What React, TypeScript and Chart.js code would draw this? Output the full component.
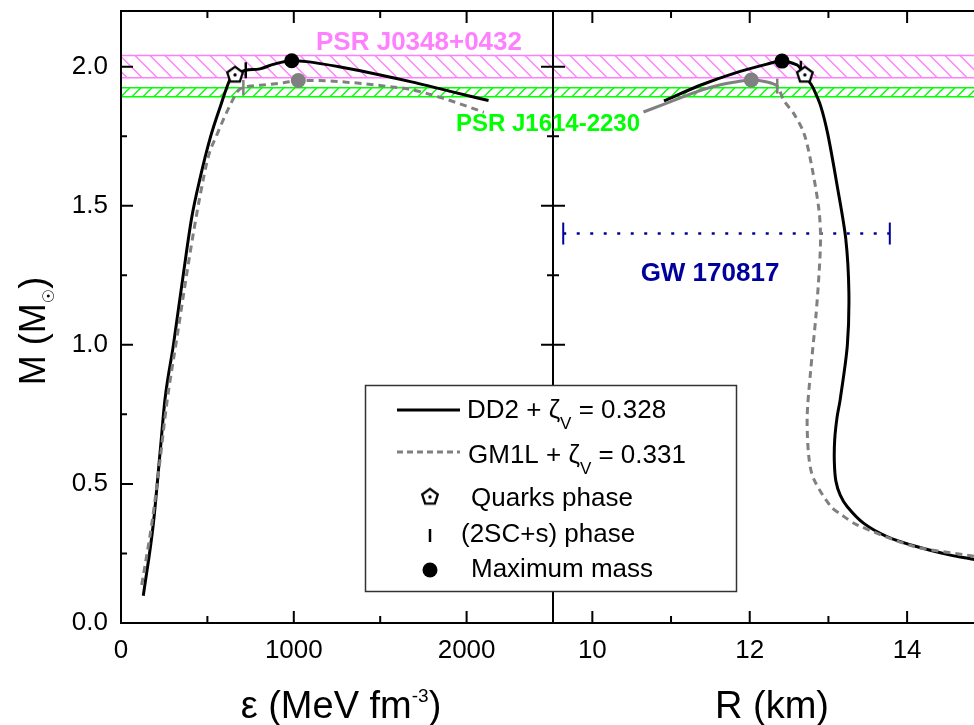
import React, { useEffect, useRef } from "react";
import { Chart, registerables } from "chart.js";

Chart.register(...registerables);

const FONT = '"Liberation Sans", Arial, Helvetica, sans-serif';
const GRAY = "#808080";
const PINK = "#ff80ff";
const GREEN = "#00ff00";
const NAVY = "#00009c";

// ---------- axes ----------
const epsRange = [0, 2500];
const radiusRange = [9.5, 14.85];
const massRange = [0, 2.2];
const epsMajorTicks = [0, 1000, 2000];
const epsMinorTicks = [500, 1500];
const radiusMajorTicks = [10, 12, 14];
const radiusMinorTicks = [11, 13];
const massMajorTicks = [0, 0.5, 1.0, 1.5, 2.0];
const massMinorTicks = [0.25, 0.75, 1.25, 1.75];

// ---------- DD2 + zeta_V = 0.328 ----------
const dd2Eps = [129, 187, 226, 255, 303, 361, 410, 458, 516, 574, 632, 660, 700, 722, 804, 881, 988, 1075, 1300, 1500, 1675, 1900, 2127];
const dd2EpsMass = [0.098, 0.356, 0.612, 0.806, 0.998, 1.255, 1.46, 1.6, 1.743, 1.855, 1.955, 1.973, 1.983, 1.987, 1.992, 2.008, 2.021, 2.018, 1.995, 1.97, 1.946, 1.912, 1.878];
const dd2Radius = [15.0, 14.84, 14.55, 14.13, 13.75, 13.45, 13.24, 13.15, 13.095, 13.075, 13.08, 13.11, 13.15, 13.24, 13.26, 13.22, 13.11, 12.99, 12.9, 12.81, 12.76, 12.7, 12.65, 12.6, 12.41, 12.22, 11.8, 11.38, 10.91];
const dd2RadiusMass = [0.218, 0.229, 0.244, 0.274, 0.31, 0.358, 0.418, 0.46, 0.51, 0.58, 0.66, 0.74, 0.804, 0.997, 1.19, 1.382, 1.574, 1.76, 1.86, 1.921, 1.945, 1.973, 1.992, 2.006, 2.02, 2.009, 1.976, 1.934, 1.877];

// ---------- GM1L + zeta_V = 0.331 ----------
const gm1lEps = [120, 178, 226, 265, 323, 400, 458, 506, 554, 600, 642, 680, 708, 748, 845, 941, 1026, 1134, 1328, 1500, 1675, 1865, 2100];
const gm1lEpsMass = [0.137, 0.356, 0.586, 0.79, 1.023, 1.331, 1.537, 1.678, 1.754, 1.82, 1.875, 1.915, 1.925, 1.93, 1.935, 1.942, 1.95, 1.95, 1.943, 1.932, 1.918, 1.886, 1.836];
const gm1lRadius = [15.0, 14.76, 14.08, 13.37, 13.17, 13.03, 12.81, 12.75, 12.73, 12.77, 12.84, 12.88, 12.9, 12.88, 12.79, 12.69, 12.56, 12.43, 12.35, 12.22, 12.02, 11.84, 11.63, 11.38, 11.16, 10.65];
const gm1lRadiusMass = [0.232, 0.244, 0.276, 0.352, 0.388, 0.419, 0.52, 0.6, 0.74, 0.894, 1.1, 1.253, 1.382, 1.484, 1.639, 1.76, 1.831, 1.88, 1.93, 1.945, 1.952, 1.946, 1.935, 1.915, 1.892, 1.837];

// ---------- markers ----------
const quarkEps = [660];
const quarkEpsMass = [1.973];
const quarkRadius = [12.7];
const quarkRadiusMass = [1.973];
const dd2TwoScEps = [722];
const dd2TwoScEpsMass = [1.987];
const gm1lTwoScEps = [708];
const gm1lTwoScEpsMass = [1.925];
const dd2TwoScRadius = [12.65];
const dd2TwoScRadiusMass = [1.992];
const gm1lTwoScRadius = [12.35];
const gm1lTwoScRadiusMass = [1.93];
const dd2MaxEps = [988];
const dd2MaxEpsMass = [2.021];
const gm1lMaxEps = [1026];
const gm1lMaxEpsMass = [1.95];
const dd2MaxRadius = [12.41];
const dd2MaxRadiusMass = [2.02];
const gm1lMaxRadius = [12.02];
const gm1lMaxRadiusMass = [1.952];

// ---------- observational constraints ----------
const psrJ0348Band = [1.96, 2.04];
const psrJ1614Band = [1.892, 1.924];
const gw170817Radius = [9.63, 13.78];
const gw170817Mass = [1.4, 1.4];

// ---------- legend ----------
const seriesNames = ["DD2", "GM1L"];
const zetaValues = ["0.328", "0.331"];
const markerNames = ["Quarks phase", "(2SC+s) phase", "Maximum mass"];

const pts = (xs: number[], ys: number[]) => xs.map((x, i) => ({ x, y: ys[i] }));
const gm1lSolidFrom = gm1lRadius.indexOf(gm1lTwoScRadius[0]);

function makePentagon(): HTMLCanvasElement {
  const c = document.createElement("canvas");
  c.width = 24;
  c.height = 24;
  const g = c.getContext("2d") as CanvasRenderingContext2D;
  g.beginPath();
  for (let i = 0; i < 5; i++) {
    const a = -Math.PI / 2 + (i * 2 * Math.PI) / 5;
    const px = 12 + 8.2 * Math.cos(a);
    const py = 12.8 + 8.2 * Math.sin(a);
    if (i === 0) g.moveTo(px, py);
    else g.lineTo(px, py);
  }
  g.closePath();
  g.fillStyle = "#fff";
  g.fill();
  g.lineWidth = 2.3;
  g.lineJoin = "miter";
  g.strokeStyle = "#000";
  g.stroke();
  g.beginPath();
  g.arc(12, 12.8, 1.7, 0, Math.PI * 2);
  g.fillStyle = "#000";
  g.fill();
  return c;
}

type Part = { t: string; font: string; dy?: number };
function richWidth(ctx: CanvasRenderingContext2D, parts: Part[]) {
  let w = 0;
  for (const p of parts) {
    ctx.font = p.font;
    w += ctx.measureText(p.t).width;
  }
  return w;
}
function drawRich(ctx: CanvasRenderingContext2D, parts: Part[], x: number, y: number, align = "left") {
  let cx = align === "center" ? x - richWidth(ctx, parts) / 2 : x;
  ctx.textAlign = "left";
  ctx.textBaseline = "alphabetic";
  for (const p of parts) {
    ctx.font = p.font;
    ctx.fillText(p.t, cx, y + (p.dy || 0));
    cx += ctx.measureText(p.t).width;
  }
}

function hatchBand(ctx: CanvasRenderingContext2D, area: any, yScale: any, band: number[], color: string, spacing: number, rising: boolean) {
  const yTop = yScale.getPixelForValue(band[1]);
  const yBot = yScale.getPixelForValue(band[0]);
  const h = yBot - yTop;
  ctx.save();
  ctx.beginPath();
  ctx.rect(area.left, yTop, area.right - area.left, h);
  ctx.clip();
  ctx.strokeStyle = color;
  ctx.lineWidth = 1.4;
  ctx.beginPath();
  const start = Math.floor((area.left - h - spacing) / spacing) * spacing;
  for (let x0 = start; x0 <= area.right + h; x0 += spacing) {
    if (rising) {
      ctx.moveTo(x0, yBot);
      ctx.lineTo(x0 + h, yTop);
    } else {
      ctx.moveTo(x0, yTop);
      ctx.lineTo(x0 + h, yBot);
    }
  }
  ctx.stroke();
  ctx.restore();
  ctx.save();
  ctx.strokeStyle = color;
  ctx.lineWidth = 1.6;
  ctx.beginPath();
  ctx.moveTo(area.left, yTop);
  ctx.lineTo(area.right, yTop);
  ctx.moveTo(area.left, yBot);
  ctx.lineTo(area.right, yBot);
  ctx.stroke();
  ctx.restore();
}

function drawBands(chart: any) {
  const ctx = chart.ctx;
  const area = chart.chartArea;
  const y = chart.scales.y;
  hatchBand(ctx, area, y, psrJ0348Band, PINK, 15, false);
  hatchBand(ctx, area, y, psrJ1614Band, GREEN, 11, true);
}

function drawFrame(chart: any, xMajor: number[], xMinor: number[], sides: { left: boolean; right: boolean; leftInward: boolean }) {
  const ctx = chart.ctx;
  const { left, right, top, bottom } = chart.chartArea;
  const xs = chart.scales.x;
  const ys = chart.scales.y;
  ctx.save();
  ctx.strokeStyle = "#000";
  ctx.lineWidth = 2;
  ctx.lineCap = "square";
  ctx.beginPath();
  ctx.moveTo(left, top);
  ctx.lineTo(right, top);
  ctx.moveTo(left, bottom);
  ctx.lineTo(right, bottom);
  if (sides.left) {
    ctx.moveTo(left, top);
    ctx.lineTo(left, bottom);
  }
  if (sides.right) {
    ctx.moveTo(right, top);
    ctx.lineTo(right, bottom);
  }
  ctx.stroke();
  ctx.lineCap = "butt";
  ctx.beginPath();
  const xt = (vals: number[], len: number) => {
    for (const v of vals) {
      const px = xs.getPixelForValue(v);
      if (px <= left + 1 || px >= right - 1) continue;
      ctx.moveTo(px, bottom);
      ctx.lineTo(px, bottom - len);
      ctx.moveTo(px, top);
      ctx.lineTo(px, top + len);
    }
  };
  xt(xMajor, 12);
  xt(xMinor, 7);
  const yt = (vals: number[], len: number) => {
    for (const v of vals) {
      const py = ys.getPixelForValue(v);
      if (py >= bottom - 1) continue;
      if (sides.leftInward) {
        ctx.moveTo(left, py);
        ctx.lineTo(left + len, py);
      }
      if (sides.right) {
        ctx.moveTo(right, py);
        ctx.lineTo(right - len, py);
      }
    }
  };
  yt(massMajorTicks, 12);
  yt(massMinorTicks, 6);
  ctx.stroke();
  ctx.restore();
}

function drawLegend(ctx: CanvasRenderingContext2D, pentagon: HTMLCanvasElement) {
  ctx.save();
  ctx.fillStyle = "#fff";
  ctx.fillRect(365, 385, 372, 207);
  ctx.strokeStyle = "#333";
  ctx.lineWidth = 1.5;
  ctx.strokeRect(365.5, 385.5, 371, 206);

  ctx.strokeStyle = "#000";
  ctx.lineWidth = 3;
  ctx.beginPath();
  ctx.moveTo(397, 410);
  ctx.lineTo(460, 410);
  ctx.stroke();
  ctx.strokeStyle = GRAY;
  ctx.setLineDash([6, 4]);
  ctx.beginPath();
  ctx.moveTo(397, 452);
  ctx.lineTo(460, 452);
  ctx.stroke();
  ctx.setLineDash([]);

  ctx.drawImage(pentagon, 430 - 12, 497 - 12.8);
  ctx.strokeStyle = "#000";
  ctx.lineWidth = 2.5;
  ctx.beginPath();
  ctx.moveTo(430, 529);
  ctx.lineTo(430, 542);
  ctx.stroke();
  ctx.fillStyle = "#000";
  ctx.beginPath();
  ctx.arc(430, 570, 7.5, 0, Math.PI * 2);
  ctx.fill();

  const big = `26px ${FONT}`;
  const sub = `17px ${FONT}`;
  ctx.fillStyle = "#000";
  drawRich(ctx, [
    { t: `${seriesNames[0]} + ζ`, font: big },
    { t: "V", font: sub, dy: 11 },
    { t: ` = ${zetaValues[0]}`, font: big },
  ], 467, 418);
  drawRich(ctx, [
    { t: `${seriesNames[1]} + ζ`, font: big },
    { t: "V", font: sub, dy: 11 },
    { t: ` = ${zetaValues[1]}`, font: big },
  ], 468, 463);
  drawRich(ctx, [{ t: markerNames[0], font: big }], 471, 506);
  drawRich(ctx, [{ t: markerNames[1], font: big }], 461, 542);
  drawRich(ctx, [{ t: markerNames[2], font: big }], 471, 577);
  ctx.restore();
}

function xScaleOpts(range: number[], major: number[], fmt: (v: number) => string) {
  return {
    type: "linear",
    position: "bottom",
    min: range[0],
    max: range[1],
    grid: { display: false, drawTicks: false },
    border: { display: false },
    ticks: {
      font: { family: FONT, size: 26 },
      color: "#000",
      padding: 12,
      autoSkip: false,
      maxRotation: 0,
      callback: (v: any) => fmt(Number(v)),
    },
    afterBuildTicks: (s: any) => {
      s.ticks = major.map((v) => ({ value: v }));
    },
    afterFit: (s: any) => {
      s.height = 102;
      s.paddingLeft = 0;
      s.paddingRight = 0;
      s.paddingTop = 0;
      s.paddingBottom = 0;
    },
  };
}

function yScaleOpts(display: boolean) {
  return {
    type: "linear",
    position: "left",
    display,
    min: massRange[0],
    max: massRange[1],
    grid: { display: false, drawTicks: false },
    border: { display: false },
    ticks: {
      font: { family: FONT, size: 26 },
      color: "#000",
      padding: 13,
      autoSkip: false,
      callback: (v: any) => Number(v).toFixed(1),
    },
    afterBuildTicks: (s: any) => {
      s.ticks = massMajorTicks.map((v) => ({ value: v }));
    },
    afterFit: (s: any) => {
      if (display) s.width = 121;
      s.paddingTop = 0;
      s.paddingBottom = 0;
      s.paddingLeft = 0;
      s.paddingRight = 0;
    },
  };
}

function markerSets(pentagon: HTMLCanvasElement, m: any) {
  return [
    { data: pts(m.dd2MaxX, m.dd2MaxY), showLine: false, pointRadius: 7.5, pointBackgroundColor: "#000", pointBorderColor: "#000", pointBorderWidth: 0 },
    { data: pts(m.gmMaxX, m.gmMaxY), showLine: false, pointRadius: 7.5, pointBackgroundColor: GRAY, pointBorderColor: GRAY, pointBorderWidth: 0 },
    { data: pts(m.qX, m.qY), showLine: false, pointStyle: pentagon, pointRadius: 8 },
    { data: pts(m.dd2TwoX, m.dd2TwoY), showLine: false, pointStyle: "line", pointRotation: 90, pointRadius: 8, pointBorderWidth: 2.5, pointBorderColor: "#000", pointBackgroundColor: "#000" },
    { data: pts(m.gmTwoX, m.gmTwoY), showLine: false, pointStyle: "line", pointRotation: 90, pointRadius: 7.5, pointBorderWidth: 2.5, pointBorderColor: GRAY, pointBackgroundColor: GRAY },
  ];
}

export default function App() {
  const leftRef = useRef<HTMLCanvasElement | null>(null);
  const rightRef = useRef<HTMLCanvasElement | null>(null);

  useEffect(() => {
    const pentagon = makePentagon();
    const common = {
      responsive: false,
      animation: false,
      devicePixelRatio: 1,
      events: [],
      plugins: { legend: { display: false }, tooltip: { enabled: false } },
    };

    const leftPlugin = {
      id: "leftDecor",
      beforeDatasetsDraw: (chart: any) => drawBands(chart),
      afterDatasetsDraw: (chart: any) => {
        drawFrame(chart, epsMajorTicks, epsMinorTicks, { left: true, right: true, leftInward: true });
        const ctx = chart.ctx;
        ctx.save();
        ctx.fillStyle = PINK;
        ctx.font = `bold 26px ${FONT}`;
        ctx.textAlign = "center";
        ctx.textBaseline = "alphabetic";
        ctx.fillText("PSR J0348+0432", 419, 50);
        ctx.restore();
      },
      afterDraw: (chart: any) => {
        const ctx = chart.ctx;
        ctx.save();
        ctx.fillStyle = "#000";
        drawRich(ctx, [
          { t: "ε (MeV fm", font: `38px ${FONT}` },
          { t: "-3", font: `19px ${FONT}`, dy: -16 },
          { t: ")", font: `38px ${FONT}` },
        ], 341, 718, "center");
        ctx.translate(45, 331);
        ctx.rotate(-Math.PI / 2);
        drawRich(ctx, [
          { t: "M (M", font: `36px ${FONT}` },
          { t: "☉", font: `16px "DejaVu Sans", ${FONT}`, dy: 9 },
          { t: ")", font: `36px ${FONT}` },
        ], 0, 0, "center");
        ctx.restore();
      },
    };

    const rightPlugin = {
      id: "rightDecor",
      beforeDatasetsDraw: (chart: any) => drawBands(chart),
      afterDatasetsDraw: (chart: any) => {
        drawFrame(chart, radiusMajorTicks, radiusMinorTicks, { left: true, right: false, leftInward: true });
        const ctx = chart.ctx;
        ctx.save();
        ctx.fillStyle = NAVY;
        ctx.font = `bold 26px ${FONT}`;
        ctx.textAlign = "center";
        ctx.textBaseline = "alphabetic";
        ctx.fillText("GW 170817", 710, 281);
        ctx.restore();
      },
      afterDraw: (chart: any) => {
        const ctx = chart.ctx;
        ctx.save();
        ctx.fillStyle = GREEN;
        ctx.font = `bold 24px ${FONT}`;
        ctx.textAlign = "center";
        ctx.textBaseline = "alphabetic";
        ctx.fillText("PSR J1614-2230", 548, 131);
        ctx.fillStyle = "#000";
        drawRich(ctx, [{ t: "R (km)", font: `38px ${FONT}` }], 772, 718, "center");
        ctx.restore();
        drawLegend(ctx, pentagon);
      },
    };

    const leftChart = new Chart(leftRef.current as HTMLCanvasElement, {
      type: "scatter",
      data: {
        datasets: [
          ...markerSets(pentagon, {
            dd2MaxX: dd2MaxEps, dd2MaxY: dd2MaxEpsMass,
            gmMaxX: gm1lMaxEps, gmMaxY: gm1lMaxEpsMass,
            qX: quarkEps, qY: quarkEpsMass,
            dd2TwoX: dd2TwoScEps, dd2TwoY: dd2TwoScEpsMass,
            gmTwoX: gm1lTwoScEps, gmTwoY: gm1lTwoScEpsMass,
          }),
          { data: pts(gm1lEps, gm1lEpsMass), showLine: true, pointRadius: 0, borderColor: GRAY, borderWidth: 3, borderDash: [7, 5], cubicInterpolationMode: "monotone" },
          { data: pts(dd2Eps, dd2EpsMass), showLine: true, pointRadius: 0, borderColor: "#000", borderWidth: 3, cubicInterpolationMode: "monotone" },
        ],
      } as any,
      options: {
        ...common,
        layout: { padding: { left: 0, top: 11, right: 421, bottom: 0 }, autoPadding: false },
        scales: {
          x: xScaleOpts(epsRange, epsMajorTicks, (v) => String(Math.round(v))),
          y: yScaleOpts(true),
        },
      } as any,
      plugins: [leftPlugin],
    } as any);

    const rightChart = new Chart(rightRef.current as HTMLCanvasElement, {
      type: "scatter",
      data: {
        datasets: [
          ...markerSets(pentagon, {
            dd2MaxX: dd2MaxRadius, dd2MaxY: dd2MaxRadiusMass,
            gmMaxX: gm1lMaxRadius, gmMaxY: gm1lMaxRadiusMass,
            qX: quarkRadius, qY: quarkRadiusMass,
            dd2TwoX: dd2TwoScRadius, dd2TwoY: dd2TwoScRadiusMass,
            gmTwoX: gm1lTwoScRadius, gmTwoY: gm1lTwoScRadiusMass,
          }),
          {
            data: pts(gm1lRadius, gm1lRadiusMass), showLine: true, pointRadius: 0, borderColor: GRAY, borderWidth: 3, tension: 0.3,
            segment: { borderDash: (c: any) => (c.p0DataIndex >= gm1lSolidFrom ? [] : [7, 5]) },
          },
          { data: pts(dd2Radius, dd2RadiusMass), showLine: true, pointRadius: 0, borderColor: "#000", borderWidth: 3, tension: 0.3 },
          {
            data: pts(gw170817Radius, gw170817Mass), showLine: true, borderColor: NAVY, borderWidth: 2.5, borderDash: [3, 10.5],
            pointStyle: "line", pointRotation: 90, pointRadius: 11, pointBorderWidth: 2, pointBorderColor: NAVY, pointBackgroundColor: NAVY,
          },
        ],
      } as any,
      options: {
        ...common,
        layout: { padding: { left: 553, top: 11, right: 0, bottom: 0 }, autoPadding: false },
        scales: {
          x: xScaleOpts(radiusRange, radiusMajorTicks, (v) => String(Math.round(v))),
          y: yScaleOpts(false),
        },
      } as any,
      plugins: [rightPlugin],
    } as any);

    return () => {
      leftChart.destroy();
      rightChart.destroy();
    };
  }, []);

  const canvasStyle: React.CSSProperties = { position: "absolute", left: 0, top: 0, width: 974, height: 725 };
  return (
    <div style={{ position: "fixed", left: 0, top: 0, width: 974, height: 725, overflow: "hidden", background: "#fff" }}>
      <canvas ref={leftRef} width={974} height={725} style={canvasStyle} />
      <canvas ref={rightRef} width={974} height={725} style={canvasStyle} />
    </div>
  );
}
